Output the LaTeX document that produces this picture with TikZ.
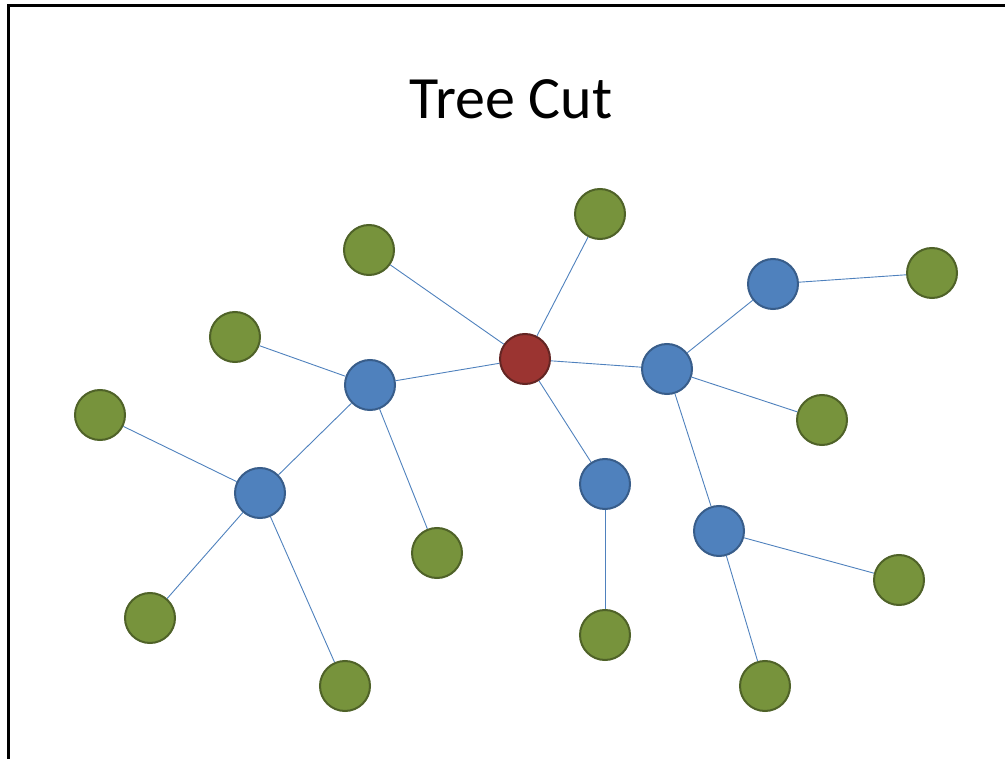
\documentclass[tikz,border=0pt]{standalone}
\usepackage{fontspec}
\setmainfont{Carlito}
\definecolor{rootfill}{HTML}{9B3431}
\definecolor{rootline}{HTML}{632523}
\definecolor{midfill}{HTML}{4F81BD}
\definecolor{midline}{HTML}{385D8A}
\definecolor{leaffill}{HTML}{77933C}
\definecolor{leafline}{HTML}{4F6228}
\definecolor{edgecol}{HTML}{4F81BD}
\tikzset{
  vert/.style={circle, minimum size=50pt, inner sep=0pt, line width=2pt},
  rootv/.style={vert, fill=rootfill, draw=rootline},
  midv/.style={vert, fill=midfill, draw=midline},
  leafv/.style={vert, fill=leaffill, draw=leafline},
  link/.style={draw=edgecol, line width=0.9pt}
}
\begin{document}
\begin{tikzpicture}[x=1pt, y=-1pt]
\useasboundingbox (0,0) rectangle (1005,759);
% frame
\draw[line width=3pt] (8,759) -- (8,6) -- (1005,6);
% title
\node[anchor=base, font=\fontsize{60}{66}\selectfont] (title) at (511,119) {Tree Cut};
% vertices
\node[rootv] (r) at (525,359) {};
\node[midv] (b1) at (370,385) {};
\node[midv] (b2) at (260,493) {};
\node[midv] (b3) at (667,369) {};
\node[midv] (b4) at (773,284) {};
\node[midv] (b5) at (605,484) {};
\node[midv] (b6) at (719,531) {};
\node[leafv] (g1) at (369,250) {};
\node[leafv] (g2) at (600,214) {};
\node[leafv] (g3) at (235,337) {};
\node[leafv] (g4) at (100,415) {};
\node[leafv] (g5) at (932,273) {};
\node[leafv] (g6) at (822,420) {};
\node[leafv] (g7) at (437,553) {};
\node[leafv] (g8) at (150,618) {};
\node[leafv] (g9) at (345,686) {};
\node[leafv] (g10) at (605,635) {};
\node[leafv] (g11) at (899,580) {};
\node[leafv] (g12) at (765,686) {};
% edges
\begin{scope}[link]
\draw (r) -- (g1);
\draw (r) -- (g2);
\draw (r) -- (b1);
\draw (r) -- (b3);
\draw (r) -- (b5);
\draw (b1) -- (g3);
\draw (b1) -- (b2);
\draw (b1) -- (g7);
\draw (b2) -- (g4);
\draw (b2) -- (g8);
\draw (b2) -- (g9);
\draw (b3) -- (b4);
\draw (b3) -- (g6);
\draw (b3) -- (b6);
\draw (b4) -- (g5);
\draw (b5) -- (g10);
\draw (b6) -- (g11);
\draw (b6) -- (g12);
\end{scope}
\end{tikzpicture}
\end{document}
